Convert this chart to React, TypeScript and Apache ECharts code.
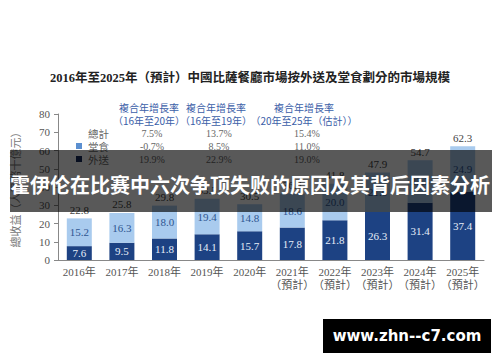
import React, { useEffect, useRef } from "react";
import * as echarts from "echarts";

const categories = ["2016年", "2017年", "2018年", "2019年", "2020年", "2021年\n（預計）", "2022年\n（預計）", "2023年\n（預計）", "2024年\n（預計）", "2025年\n（預計）"];
const delivery = [7.6, 9.5, 11.8, 14.1, 15.7, 17.8, 21.8, 26.3, 31.4, 37.4];
const dineIn = [15.2, 16.3, 18.0, 19.4, 14.8, 18.6, 20.0, 21.6, 23.3, 24.9];
const totals = [22.8, 25.8, 29.8, 33.5, 30.5, 36.4, 41.8, 47.9, 54.7, 62.3];

const cagrHeaders = [
  ["複合年增長率", "（16年至20年）"],
  ["複合年增長率", "（16年至19年）"],
  ["複合年增長率", "（20年至25年（估計））"],
];
const cagrTotal = ["7.5%", "13.7%", "15.4%"];
const cagrDineIn = ["-0.7%", "8.5%", "11.0%"];
const cagrDelivery = ["19.9%", "22.9%", "19.0%"];
const legendNames = ["總計", "堂食", "外送"];

const TITLE = "2016年至2025年（預計）中國比薩餐廳市場按外送及堂食劃分的市場規模";
const BANNER = "霍伊伦在比赛中六次争顶失败的原因及其背后因素分析";
const WATERMARK = "www.zhn--c7.com";

const SERIF = "'Liberation Serif', 'Noto Sans CJK TC', serif";
const SANS = "'Noto Sans CJK TC', 'Noto Sans', sans-serif";
const NAVY = "#1d4283";
const LIGHT = "#a9cbee";

const fmt = (p: any) => Number(p.value).toFixed(1);

export default function App() {
  const ref = useRef<HTMLDivElement>(null);
  useEffect(() => {
    document.body.style.margin = "0";
    const chart = echarts.init(ref.current!, undefined, { renderer: "svg" });
    const colX = [149, 216, 304];
    const rowY = [133, 146, 159];
    const graphics: any[] = [];
    graphics.push({
      type: "text", left: "center", top: 72,
      style: { text: TITLE, font: `bold 12.5px ${SERIF}`, fill: "#222" },
    });
    cagrHeaders.forEach((h, i) => {
      h.forEach((line, j) => {
        graphics.push({
          type: "text", x: colX[i], y: 107 + j * 13,
          style: { text: line, font: `10px ${SANS}`, fill: "#3b5ea8", align: "center", verticalAlign: "middle" },
        });
      });
    });
    [cagrTotal, cagrDineIn, cagrDelivery].forEach((row, r) => {
      row.forEach((v, i) => {
        graphics.push({
          type: "text", x: colX[i] + 3, y: rowY[r],
          style: { text: v, font: `10px ${SERIF}`, fill: "#666", align: "center", verticalAlign: "middle" },
        });
      });
    });
    legendNames.forEach((n, r) => {
      graphics.push({
        type: "text", x: 88, y: rowY[r],
        style: { text: n, font: `10.5px ${SANS}`, fill: "#666", verticalAlign: "middle" },
      });
    });
    graphics.push({ type: "rect", shape: { x: 76, y: rowY[1] - 3, width: 6, height: 6 }, style: { fill: "#5b8fd0" } });
    graphics.push({ type: "rect", shape: { x: 76, y: rowY[2] - 3, width: 6, height: 6 }, style: { fill: "#14295a" } });
    graphics.push({ type: "rect", z: 100, shape: { x: 10, y: 150, width: 482, height: 62 }, style: { fill: "rgba(0,0,0,0.65)" } });
    graphics.push({
      type: "text", z: 101, x: 250, y: 184,
      style: { text: BANNER, font: `bold 20px 'Noto Sans CJK SC', sans-serif`, fill: "#fff", align: "center", verticalAlign: "middle" },
    });
    graphics.push({ type: "rect", z: 100, shape: { x: 323, y: 319, width: 168, height: 34 }, style: { fill: "#000" } });
    graphics.push({
      type: "text", z: 101, x: 407, y: 336,
      style: { text: WATERMARK, font: `bold 15px 'DejaVu Sans', sans-serif`, fill: "#fff", align: "center", verticalAlign: "middle" },
    });

    chart.setOption({
      animation: false,
      backgroundColor: "#fff",
      grid: { left: 58, right: 16, top: 114, bottom: 102 },
      xAxis: {
        type: "category",
        data: categories,
        axisLine: { lineStyle: { color: "#888" } },
        axisTick: { show: false },
        axisLabel: { interval: 0, color: "#555", fontSize: 11, fontFamily: SERIF, lineHeight: 13, margin: 5 },
      },
      yAxis: {
        type: "value",
        min: 0, max: 80, interval: 10,
        name: "總收益（人民幣十億元）",
        nameLocation: "middle",
        nameGap: 38,
        nameTextStyle: { color: "#777", fontSize: 11, fontFamily: SANS },
        axisLine: { show: true, lineStyle: { color: "#888" } },
        axisTick: { show: true, length: 4, lineStyle: { color: "#888" } },
        splitLine: { show: false },
        axisLabel: { color: "#555", fontSize: 11, fontFamily: SERIF, margin: 8 },
      },
      series: [
        {
          name: "外送", type: "bar", stack: "s", data: delivery, barWidth: 25,
          itemStyle: { color: NAVY },
          label: { show: true, position: "inside", color: "#e6eef9", fontSize: 11, fontFamily: SERIF, formatter: fmt },
        },
        {
          name: "堂食", type: "bar", stack: "s", data: dineIn, barWidth: 25,
          itemStyle: { color: LIGHT },
          label: { show: true, position: "inside", color: "#2f5590", fontSize: 11, fontFamily: SERIF, formatter: fmt },
        },
        {
          name: "總計", type: "bar", data: totals, barWidth: 25, barGap: "-100%",
          itemStyle: { color: "transparent" },
          label: { show: true, position: "top", color: "#444", fontSize: 11, fontFamily: SERIF, distance: 3, formatter: fmt },
          z: 1,
        },
      ],
      graphic: graphics,
    });
    return () => chart.dispose();
  }, []);
  return <div ref={ref} style={{ width: 500, height: 362 }} />;
}
